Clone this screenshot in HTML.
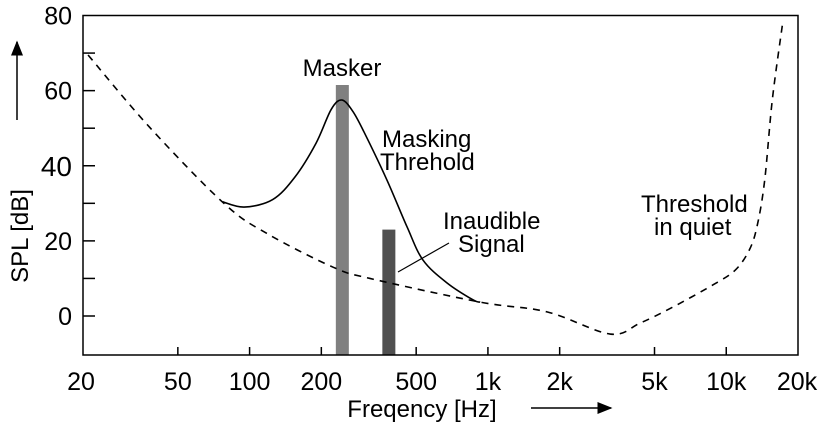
<!DOCTYPE html>
<html><head><meta charset="utf-8"><style>
html,body{margin:0;padding:0;background:#fff}
svg{display:block;font-family:"Liberation Sans",Arial,sans-serif}
</style></head><body>
<svg id="chart" width="826" height="427" viewBox="0 0 826 427">
<defs><marker id="ah" markerWidth="10" markerHeight="8" refX="9" refY="4" orient="auto"><path d="M0,0 L10,4 L0,8 Z" fill="#000"/></marker></defs>
</svg>
<script>
const xTicks=[20,50,100,200,500,1000,2000,5000,10000,20000];
const xTickLabels=["20","50","100","200","500","1k","2k","5k","10k","20k"];
const yTicks=[0,10,20,30,40,50,60,70];
const yLabelVals=[0,20,40,60,80];
const quietFreq=[21,38,78,118,224,320,928,1770,3254,4345,5980,8800,10900,12500,13500,14500,15600,17200];
const quietDb=[69.5,50.3,30,22,13,10,3.7,1.1,-4.8,-1.9,2.4,8.3,12.2,17.6,24.2,36.2,57.5,77.5];
const maskFreq=[77,95,125,155,190,220,244,271,302,377,458,534,674,866,928];
const maskDb=[30.4,29,31,37,46,55,57.5,54.5,49,36.2,23.7,14.9,8.8,4.3,3.7];
const barFreq=[245,384];
const barDb=[61.5,23];
const barNames=["masker-bar","inaudible-signal-bar"];
const barColors=["#808080","#505050"];

const X0=83,X1=798,Y0=355,Y1=15.5;
const xs=f=>X0+(X1-X0)*Math.log10(f/20)/3;
const ys=d=>316-d*3.756;
const svg=document.getElementById('chart');
const NS='http://www.w3.org/2000/svg';
function mk(tag,attrs,parent){const e=document.createElementNS(NS,tag);for(const k in attrs)e.setAttribute(k,attrs[k]);(parent||svg).appendChild(e);return e;}
function smooth(pts){let d='M'+pts[0][0]+','+pts[0][1];for(let i=0;i<pts.length-1;i++){const p0=pts[i-1]||pts[i],p1=pts[i],p2=pts[i+1],p3=pts[i+2]||p2;const c1=[p1[0]+(p2[0]-p0[0])/6,p1[1]+(p2[1]-p0[1])/6],c2=[p2[0]-(p3[0]-p1[0])/6,p2[1]-(p3[1]-p1[1])/6];d+=' C'+c1+' '+c2+' '+p2;}return d;}

barFreq.forEach((f,i)=>{const r=mk('rect',{x:xs(f)-6.5,y:ys(barDb[i]),width:13,height:Y0-ys(barDb[i]),fill:barColors[i]});

});
const q=mk('path',{d:smooth(quietFreq.map((f,i)=>[xs(f),ys(quietDb[i])])),fill:'none',stroke:'#000','stroke-width':1.6,'stroke-dasharray':'7,6'});


const m=mk('path',{d:smooth(maskFreq.map((f,i)=>[xs(f),ys(maskDb[i])])),fill:'none',stroke:'#000','stroke-width':1.6});


const fr=mk('rect',{x:X0,y:Y1,width:X1-X0,height:Y0-Y1,fill:'none',stroke:'#000','stroke-width':1.5});


xTicks.forEach((t,i)=>{const x=xs(t);if(i>0&&i<xTicks.length-1){const l=mk('line',{x1:x,x2:x,y1:Y0,y2:Y0-8,stroke:'#000','stroke-width':1.5});

}
let lx=x;if(i==0)lx=x-2;if(i==xTicks.length-1)lx=x-1;
const tx=mk('text',{x:lx,y:390,'font-size':25,'text-anchor':'middle'});tx.textContent=xTickLabels[i];

});
yTicks.forEach(t=>{const l=mk('line',{x1:X0,x2:X0+12,y1:ys(t),y2:ys(t),stroke:'#000','stroke-width':1.5});

});
yLabelVals.forEach(v=>{const tx=mk('text',{x:72,y:ys(v)+(v==40?10:9),'font-size':v==40?28:25,'text-anchor':'end'});tx.textContent=v;

});
svg.insertAdjacentHTML('beforeend',`
<text transform="translate(28,236) rotate(-90)" font-size="24" text-anchor="middle">SPL [dB]</text>
<line x1="17" y1="120" x2="17" y2="42" stroke="#000" stroke-width="1.5" marker-end="url(#ah)"/>
<text x="422" y="417" font-size="24" text-anchor="middle">Freqency [Hz]</text>
<line x1="531" y1="408" x2="611" y2="408" stroke="#000" stroke-width="1.5" marker-end="url(#ah)"/>
<text x="342" y="76" font-size="24" text-anchor="middle">Masker</text>
<text font-size="24"><tspan x="382" y="147">Masking</tspan><tspan x="380" y="170">Threhold</tspan></text>
<text font-size="24"><tspan x="443" y="229">Inaudible</tspan><tspan x="458" y="252">Signal</tspan></text>
<line x1="449" y1="243" x2="398" y2="272" stroke="#000" stroke-width="1.2"/>
<text font-size="24"><tspan x="641" y="212">Threshold</tspan><tspan x="654" y="235">in quiet</tspan></text>
`);
</script>
</body></html>
